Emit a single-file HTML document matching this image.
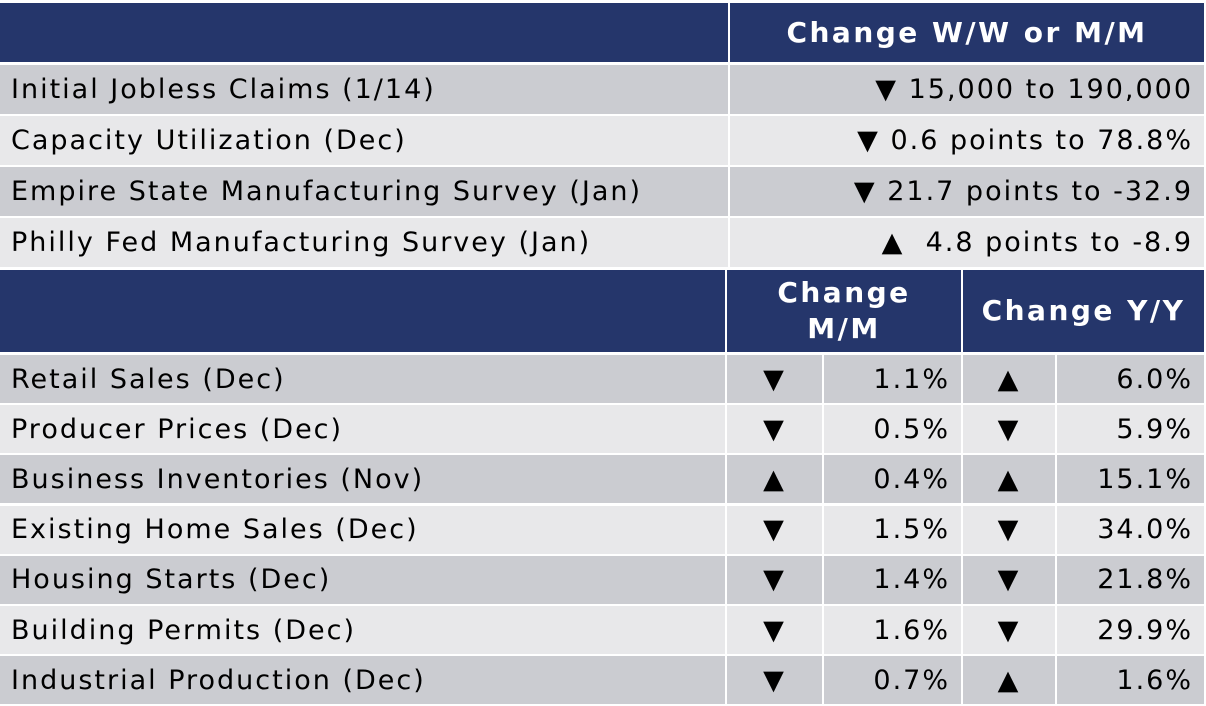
<!DOCTYPE html>
<html><head><meta charset="utf-8"><style>
body{margin:0;width:1206px;height:706px;background:#fff;position:relative;overflow:hidden;font-family:"DejaVu Sans","Liberation Sans",sans-serif;}
.c{position:absolute;box-sizing:border-box;display:flex;align-items:center;font-size:27px;letter-spacing:2px;color:#000;white-space:nowrap;}
.h{background:#25366b;color:#fff;font-weight:bold;font-size:28px;letter-spacing:2.5px;justify-content:center;text-align:center;line-height:36px;}
.d{background:#cbccd1}.l{background:#e8e8ea}
.lab{padding-left:11px}.r{justify-content:flex-end;padding-right:11px}.m{justify-content:center}
</style></head><body>
<div class="c h" style="left:0;top:3px;width:728px;height:59px"></div>
<div class="c h" style="left:730px;top:3px;width:474px;height:59px">Change W/W or M/M</div>
<div class="c h" style="left:0;top:270px;width:725px;height:82px"></div>
<div class="c h" style="left:727px;top:270px;width:234px;height:82px">Change<br>M/M</div>
<div class="c h" style="left:963px;top:270px;width:241px;height:82px">Change Y/Y</div>
<script>
const up='▲',dn='▼';
const t1Labels=["Initial Jobless Claims (1/14)","Capacity Utilization (Dec)","Empire State Manufacturing Survey (Jan)","Philly Fed Manufacturing Survey (Jan)"];
const t1Values=["▼ 15,000 to 190,000","▼ 0.6 points to 78.8%","▼ 21.7 points to -32.9","▲  4.8 points to -8.9"];
const t2Labels=["Retail Sales (Dec)","Producer Prices (Dec)","Business Inventories (Nov)","Existing Home Sales (Dec)","Housing Starts (Dec)","Building Permits (Dec)","Industrial Production (Dec)"];
const mmDir=[dn,dn,up,dn,dn,dn,dn];
const mmVal=["1.1%","0.5%","0.4%","1.5%","1.4%","1.6%","0.7%"];
const yyDir=[up,dn,up,dn,dn,dn,up];
const yyVal=["6.0%","5.9%","15.1%","34.0%","21.8%","29.9%","1.6%"];
function cell(cls,name,x,y,w,h,txt){const e=document.createElement('div');e.className='c '+cls;


e.style.cssText=`left:${x}px;top:${y}px;width:${w}px;height:${h}px`;e.textContent=txt;e.style.whiteSpace='pre';document.body.appendChild(e);}
t1Labels.forEach((l,i)=>{const y=65+i*51,bg=i%2?'l':'d';
cell(bg+' lab','weekly-indicator-label',0,y,728,49,l);
cell(bg+' r','weekly-indicator-value',730,y,474,49,t1Values[i]);});
t2Labels.forEach((l,i)=>{const y=355+i*50.2,bg=i%2?'l':'d';
cell(bg+' lab','indicator-label',0,y,725,48,l);
cell(bg+' m','mm-direction',727,y,95,48,mmDir[i]);
cell(bg+' r','mm-value',824,y,137,48,mmVal[i]);
cell(bg+' m','yy-direction',963,y,92,48,yyDir[i]);
cell(bg+' r','yy-value',1057,y,147,48,yyVal[i]);});
</script>
</body></html>
